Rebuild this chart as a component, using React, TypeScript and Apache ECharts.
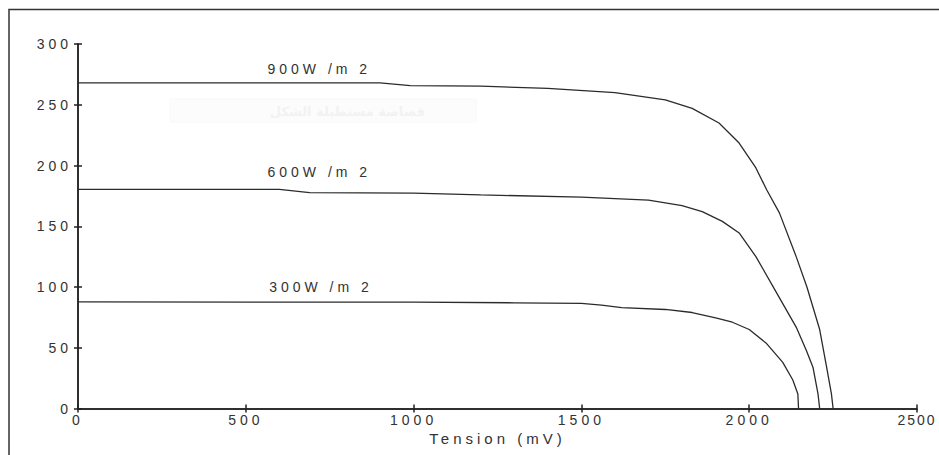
import React, { useEffect, useRef } from "react";
import * as echarts from "echarts";

// Current (y) versus tension (mV) for three irradiance levels
const curve900: [number, number][] = [
  [0, 268], [900, 268], [990, 265.8], [1200, 265.3], [1400, 263.5], [1600, 260],
  [1750, 254], [1830, 247], [1910, 235], [1970, 218.5], [2020, 198], [2052, 180],
  [2090, 161], [2140, 125], [2172, 100], [2210, 65], [2230, 35], [2245, 12], [2250, 0],
];
const curve600: [number, number][] = [
  [0, 180.4], [600, 180.3], [690, 177.6], [1000, 177.3], [1200, 175.8], [1500, 174],
  [1700, 171.5], [1800, 167], [1860, 162], [1920, 154], [1970, 144.5], [2020, 125],
  [2080, 96], [2140, 67], [2170, 48], [2190, 34], [2205, 12], [2210, 0],
];
const curve300: [number, number][] = [
  [0, 87.7], [1000, 87.5], [1300, 87], [1500, 86.6], [1560, 85], [1620, 83],
  [1750, 81.5], [1830, 79], [1900, 74.5], [1950, 71], [2000, 65], [2050, 54],
  [2100, 38], [2130, 23.5], [2145, 12], [2147, 0],
];
const curveNames = ["900W /m 2", "600W /m 2", "300W /m 2"];
const labelPos: [number, number][] = [
  [719, 279.4],
  [719, 194.9],
  [724, 100.2],
];
const xMin = 0, xMax = 2500, xStep = 500;
const yMin = 0, yMax = 300, yStep = 50;
const xName = "Tension (mV)";
const watermark = "قصاصة مستطيلة الشكل";

export default function App() {
  const ref = useRef<HTMLDivElement>(null);
  useEffect(() => {
    if (!ref.current) return;
    const chart = echarts.init(ref.current, undefined, { renderer: "svg" });
    const ink = "#222";
    const font = "Liberation Sans, Arial, sans-serif";
    const axisLine = { show: true, lineStyle: { color: ink, width: 1.5 } };
    const axisTick = { show: true, inside: true, length: 4, lineStyle: { color: ink, width: 1.5 } };
    const plain = (v: number) => String(v);
    const curves = [curve900, curve600, curve300];
    chart.setOption({
      animation: false,
      backgroundColor: "#fff",
      grid: { left: 78, right: 22, top: 44, bottom: 46.5, containLabel: false },
      xAxis: [
        {
          type: "value", min: xMin, max: xMax, interval: xStep, position: "bottom",
          axisLine, axisTick, splitLine: { show: false },
          axisLabel: { color: "#333", fontSize: 14, fontFamily: font, margin: 4, formatter: plain },
          name: xName, nameLocation: "middle", nameGap: 22,
          nameTextStyle: { color: "#333", fontSize: 15, fontFamily: font },
        },
        {
          type: "value", min: xMin, max: xMax, interval: xStep, position: "top",
          axisLine, axisTick, splitLine: { show: false }, axisLabel: { show: false },
        },
      ],
      yAxis: [
        {
          type: "value", min: yMin, max: yMax, interval: yStep, position: "left",
          axisLine, axisTick, splitLine: { show: false },
          axisLabel: { color: "#333", fontSize: 14, fontFamily: font, margin: 6, formatter: plain },
        },
        {
          type: "value", min: yMin, max: yMax, interval: yStep, position: "right",
          axisLine, axisTick, splitLine: { show: false }, axisLabel: { show: false },
        },
      ],
      graphic: [
        {
          type: "polyline", silent: true,
          shape: { points: [[9, 455], [9, 9.5], [939, 9.5]] },
          style: { stroke: "#333", lineWidth: 1.5, fill: "none" },
        },
        {
          type: "rect", silent: true, z: -1,
          shape: { x: 170, y: 99, width: 306, height: 23 },
          style: { fill: "#fcfcfc", stroke: "#f8f8f8" },
        },
        {
          type: "text", silent: true, z: -1,
          style: { text: watermark, x: 425, y: 111, align: "right", verticalAlign: "middle", fill: "#f2f2f2", fontSize: 13, fontWeight: "bold", fontFamily: "DejaVu Sans" },
        },
      ],
      series: curves.map((c, i) => ({
        type: "line",
        xAxisIndex: 0,
        yAxisIndex: 0,
        data: c,
        showSymbol: false,
        symbol: "none",
        lineStyle: { color: "#2b2b2b", width: 1.3 },
        silent: true,
        markPoint: {
          symbol: "circle",
          symbolSize: 0,
          silent: true,
          data: [{ coord: labelPos[i], value: curveNames[i] }],
          label: {
            show: true, position: "inside", formatter: curveNames[i],
            color: "#333", fontSize: 14, fontFamily: font,
          },
        },
      })),
    });
    const applySpacing = () => {
      if (!ref.current) return;
      ref.current.querySelectorAll("text").forEach((t) => {
        const s = t.textContent || "";
        if (/[\u0600-\u06FF]/.test(s)) return;
        (t as SVGTextElement).style.letterSpacing = s === String(xMax) ? "2px" : "4px";
      });
    };
    applySpacing();
    chart.on("finished", applySpacing);
    const tm = setTimeout(applySpacing, 50);
    return () => {
      clearTimeout(tm);
      chart.dispose();
    };
  }, []);
  return (
    <div
      ref={ref}
      style={{ position: "fixed", left: 0, top: 0, width: 939, height: 455, background: "#fff" }}
    />
  );
}
